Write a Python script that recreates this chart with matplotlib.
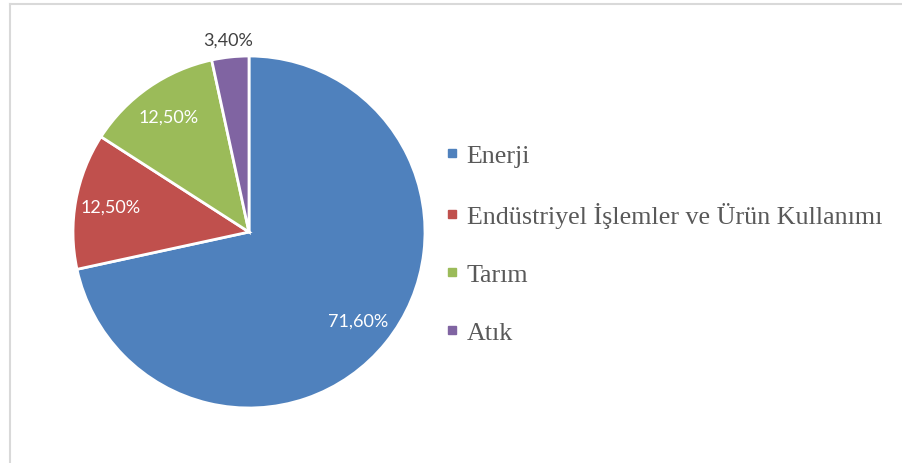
import matplotlib.pyplot as plt
from matplotlib.lines import Line2D

categories = ["Enerji", "Endüstriyel İşlemler ve Ürün Kullanımı", "Tarım", "Atık"]
shares = [71.6, 12.5, 12.5, 3.4]
labels = ["71,60%", "12,50%", "12,50%", "3,40%"]
colors = ["#4F81BD", "#C0504D", "#9BBB59", "#8064A2"]

W, H = 902, 464
fig = plt.figure(figsize=(W / 100, H / 100), dpi=100)

# chart frame (top and left edges visible)
fig.add_artist(Line2D([10 / W, 10 / W], [0, 1 - 5 / H], color="#D9D9D9", lw=1.5))
fig.add_artist(Line2D([10 / W, 1], [1 - 5 / H, 1 - 5 / H], color="#D9D9D9", lw=1.5))

cx, cy, r = 249, H - 233, 176
ax = fig.add_axes([(cx - r) / W, (cy - r) / H, 2 * r / W, 2 * r / H])

wedges, texts, autotexts = ax.pie(
    shares, colors=colors, startangle=90, counterclock=False,
    labels=None, autopct="%1.1f", pctdistance=0.8,
    wedgeprops=dict(edgecolor="white", linewidth=2),
)
for t, lab in zip(autotexts, labels):
    t.set_text(lab)
    t.set_color("white")
    t.set_fontsize(13)
    t.set_family(["Lato", "DejaVu Sans"])

# smallest slice label sits outside the pie, above it
autotexts[3].set_position((-0.12, 1.095))
autotexts[3].set_color("#404040")

ax.set_xlim(-1, 1)
ax.set_ylim(-1, 1)
ax.set_aspect("equal")
ax.axis("off")

handles = [Line2D([], [], marker="s", linestyle="none", markersize=6,
                  markerfacecolor=c, markeredgecolor=c) for c in colors]
leg = fig.legend(handles, categories, loc="upper left",
                 bbox_to_anchor=(446 / W, 1 - 145 / H), frameon=False,
                 prop={"family": "Liberation Serif", "size": 18.7},
                 labelspacing=1.34, handlelength=0.5, handletextpad=0.3,
                 borderpad=0, borderaxespad=0)
for t in leg.get_texts():
    t.set_color("#595959")

fig.savefig("out.png", dpi=100)
